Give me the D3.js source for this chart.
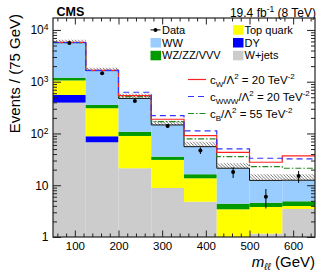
<!DOCTYPE html>
<html>
<head>
<meta charset="utf-8">
<script src="https://cdn.jsdelivr.net/npm/d3@7"></script>
<style>
  body { margin: 0; background: #fff; }
  svg { display: block; font-family: "Liberation Sans", Arial, Helvetica, sans-serif; }
</style>
</head>
<body>
<svg id="chart" width="332" height="274"></svg>
<script>
// bin edges in GeV (75 GeV bins)
const binEdges = [50, 125, 200, 275, 350, 425, 500, 575, 650];

// stacked backgrounds, bottom to top
const wjets = [394, 67.6, 21.3, 8.85, 4.81, 0, 1.16, 3.48];
const dyll = [161, 20.7, 0, 0, 0, 0, 0, 0];
const topq = [502, 219, 68.2, 22.0, 8.8, 3.43, 2.64, 0.49];
const wzzz = [140, 48.6, 18.5, 4.8, 2.7, 0.97, 0.8, 0.93];
const ww = [4487, 1280, 367, 110.4, 39.3, 16.9, 7.8, 7.6];
// relative upper size of the hatched uncertainty band
const bandUp = [0.14, 0.14, 0.25, 0.21, 0.25, 0.25, 0.31, 0.3];

// observed
const dataVals = [5610, 1456, 425, 140, 47, 18, 6, 15];
const dataErr = [75, 38, 21, 12, 6.9, 4.2, 2.45, 3.9];

// aTGC predictions (SM + signal)
const sigCW = [5750, 1660, 537, 188, 90.7, 43.3, 27.8, 36.8];
const sigCWWW = [5720, 1650, 625, 221, 112, 50.2, 33.2, 32.2];
const sigCB = [5700, 1645, 515, 169, 78.3, 35.6, 22.8, 21.3];

const yMajor = [1, 10, 100, 1000, 10000];
const xMajor = [100, 200, 300, 400, 500, 600];

const svg = d3.select("#chart");
const plot = { left: 53, right: 315, top: 18, bottom: 237 };

const x = d3.scaleLinear().domain([50, 650]).range([plot.left, plot.right]);
const y = d3.scaleLog().domain([1, 17000]).range([plot.bottom, plot.top]).clamp(true);

const defs = svg.append("defs");
const pat = defs.append("pattern")
  .attr("id", "hatch")
  .attr("patternUnits", "userSpaceOnUse")
  .attr("width", 3.2).attr("height", 3.2);
pat.append("rect").attr("width", 3.2).attr("height", 3.2).attr("fill", "#fff");
pat.append("path").attr("d", "M-1,-1 L4.2,4.2 M-1,2.2 L1,4.2 M2.2,-1 L4.2,1")
  .attr("stroke", "#444").attr("stroke-width", 0.7);
defs.append("clipPath").attr("id", "clip")
  .append("rect").attr("x", plot.left).attr("y", plot.top)
  .attr("width", plot.right - plot.left).attr("height", plot.bottom - plot.top);

const g = svg.append("g").attr("clip-path", "url(#clip)");

// stack
const comps = [
  { vals: wjets, color: "#cccccc" },
  { vals: dyll, color: "#0000ff" },
  { vals: topq, color: "#ffff00" },
  { vals: wzzz, color: "#009900" },
  { vals: ww, color: "#99ccff" },
];
const base = binEdges.slice(0, -1).map(() => 0);
comps.forEach((c) => {
  c.vals.forEach((v, i) => {
    const lo = base[i];
    const hi = lo + v;
    base[i] = hi;
    if (v <= 0) return;
    g.append("rect")
      .attr("x", x(binEdges[i]))
      .attr("width", x(binEdges[i + 1]) - x(binEdges[i]))
      .attr("y", y(hi))
      .attr("height", y(Math.max(lo, 1)) - y(hi))
      .attr("fill", c.color);
  });
});
const total = base.slice();

const stepPts = (vals) => vals.map((v, i) => [binEdges[i], v]).concat([[binEdges[binEdges.length - 1], vals[vals.length - 1]]]);

// uncertainty band
const band = d3.area()
  .x((d) => x(d[0]))
  .y0((d) => y(d[1]))
  .y1((d) => y(d[2]))
  .curve(d3.curveStepAfter);
const bandPts = total.map((t, i) => [binEdges[i], t, t * (1 + bandUp[i])]);
bandPts.push([650, total[7], total[7] * (1 + bandUp[7])]);
g.append("path").attr("d", band(bandPts)).attr("fill", "url(#hatch)");

const step = d3.line().x((d) => x(d[0])).y((d) => y(d[1])).curve(d3.curveStepAfter);
g.append("path").attr("d", step(stepPts(total)))
  .attr("fill", "none").attr("stroke", "#111").attr("stroke-width", 1);

const sigs = [
  { vals: sigCB, color: "#228822", dash: "6,2,1.5,2" },
  { vals: sigCW, color: "#ff2222", dash: null },
  { vals: sigCWWW, color: "#3333ff", dash: "6,4" },
];
sigs.forEach((s) => {
  g.append("path").attr("d", step(stepPts(s.vals)))
    .attr("fill", "none").attr("stroke", s.color).attr("stroke-width", 1.2)
    .attr("stroke-dasharray", s.dash);
});

// data
dataVals.forEach((v, i) => {
  const cx = x((binEdges[i] + binEdges[i + 1]) / 2);
  g.append("line").attr("x1", cx).attr("x2", cx)
    .attr("y1", y(v + dataErr[i])).attr("y2", y(v - dataErr[i]))
    .attr("stroke", "#000").attr("stroke-width", 1);
  g.append("circle").attr("cx", cx).attr("cy", y(v)).attr("r", 2).attr("fill", "#000");
});

// axes
const yMinor = [];
for (let d = 1; d <= 10000; d *= 10) for (let k = 2; k <= 9; k++) if (d * k < 17000) yMinor.push(d * k);
const xMinor = d3.range(60, 650, 20).filter((v) => v % 100 !== 0);

const axes = svg.append("g").attr("stroke-width", 1);
const tickStyle = (sel) => { sel.select(".domain").remove(); sel.selectAll("line").attr("stroke", "#222"); };

const yl = axes.append("g").attr("transform", `translate(${plot.left},0)`)
  .call(d3.axisLeft(y).tickValues(yMajor).tickSizeInner(-8).tickSizeOuter(0).tickPadding(4.5)
    .tickFormat((d) => (d >= 100 ? "10" : String(d))))
  .call(tickStyle);
yl.selectAll("text").attr("font-size", 12).attr("fill", "#000").attr("font-family", null)
  .each(function (d) {
    if (d >= 100) {
      d3.select(this).append("tspan").attr("font-size", 8.5).attr("dy", "-0.45em")
        .text(String(Math.round(Math.log10(d))));
    }
  });
axes.append("g").attr("transform", `translate(${plot.left},0)`)
  .call(d3.axisLeft(y).tickValues(yMinor).tickSizeInner(-4).tickSizeOuter(0).tickFormat(""))
  .call(tickStyle);
axes.append("g").attr("transform", `translate(${plot.right},0)`)
  .call(d3.axisLeft(y).tickValues(yMajor).tickSizeInner(8).tickSizeOuter(0).tickFormat(""))
  .call(tickStyle);
axes.append("g").attr("transform", `translate(${plot.right},0)`)
  .call(d3.axisLeft(y).tickValues(yMinor).tickSizeInner(4).tickSizeOuter(0).tickFormat(""))
  .call(tickStyle);

const xb = axes.append("g").attr("transform", `translate(0,${plot.bottom})`)
  .call(d3.axisBottom(x).tickValues(xMajor).tickSizeInner(-6.5).tickSizeOuter(0).tickPadding(5))
  .call(tickStyle);
xb.selectAll("text").attr("font-size", 11.5).attr("fill", "#000").attr("font-family", null);
axes.append("g").attr("transform", `translate(0,${plot.bottom})`)
  .call(d3.axisBottom(x).tickValues(xMinor).tickSizeInner(-3.5).tickSizeOuter(0).tickFormat(""))
  .call(tickStyle);
axes.append("g").attr("transform", `translate(0,${plot.top})`)
  .call(d3.axisBottom(x).tickValues(xMajor).tickSizeInner(6.5).tickSizeOuter(0).tickFormat(""))
  .call(tickStyle);
axes.append("g").attr("transform", `translate(0,${plot.top})`)
  .call(d3.axisBottom(x).tickValues(xMinor).tickSizeInner(3.5).tickSizeOuter(0).tickFormat(""))
  .call(tickStyle);

svg.append("rect").attr("x", plot.left).attr("y", plot.top)
  .attr("width", plot.right - plot.left).attr("height", plot.bottom - plot.top)
  .attr("fill", "none").attr("stroke", "#222").attr("stroke-width", 1.2);

// titles
svg.append("text").attr("x", 56.5).attr("y", 16).attr("font-size", 12.5).attr("font-weight", "bold").text("CMS");
const lumi = svg.append("text").attr("x", 316).attr("y", 16.5).attr("font-size", 12).attr("text-anchor", "end");
lumi.append("tspan").text("19.4 fb");
lumi.append("tspan").attr("font-size", 8.5).attr("dy", -5).text("-1");
lumi.append("tspan").attr("dy", 5).text(" (8 TeV)");

svg.append("text")
  .attr("transform", "translate(19.5,14) rotate(-90)")
  .attr("text-anchor", "end").attr("font-size", 15)
  .text("Events / (75 GeV)");

const xt = svg.append("text").attr("x", 315).attr("y", 267).attr("font-size", 15).attr("text-anchor", "end");
xt.append("tspan").attr("font-style", "italic").text("m");
xt.append("tspan").attr("font-style", "italic").attr("font-size", 10).attr("dy", 3).text("ℓℓ");
xt.append("tspan").attr("dy", -3).text(" (GeV)");

// legend
const leg = svg.append("g").attr("font-size", 11);
const boxRows = [
  { label: "Data", col: 0, row: 0, kind: "data" },
  { label: "WW", col: 0, row: 1, color: "#99ccff" },
  { label: "WZ/ZZ/VVV", col: 0, row: 2, color: "#009900" },
  { label: "Top quark", col: 1, row: 0, color: "#ffff00" },
  { label: "DY", col: 1, row: 1, color: "#0000ff" },
  { label: "W+jets", col: 1, row: 2, color: "#cccccc" },
];
const colX = [150.5, 233];
boxRows.forEach((r) => {
  const bx = colX[r.col];
  const by = 33.7 + r.row * 12.8;
  if (r.kind === "data") {
    leg.append("line").attr("x1", bx).attr("x2", bx + 10).attr("y1", by - 3.8).attr("y2", by - 3.8)
      .attr("stroke", "#000");
    leg.append("circle").attr("cx", bx + 5).attr("cy", by - 3.8).attr("r", 2).attr("fill", "#000");
  } else {
    leg.append("rect").attr("x", bx).attr("y", by - 8.5).attr("width", 10.5).attr("height", 9.5)
      .attr("fill", r.color);
  }
  leg.append("text").attr("x", bx + 11.5).attr("y", by).text(r.label);
});

const sigLeg = [
  { sub: "W", val: "20", color: "#ff2222", dash: null },
  { sub: "WWW", val: "20", color: "#3333ff", dash: "6,4" },
  { sub: "B", val: "55", color: "#228822", dash: "6,2,1.5,2" },
];
sigLeg.forEach((s, i) => {
  const ly = 79.5 + i * 17;
  leg.append("line").attr("x1", 188).attr("x2", 206).attr("y1", ly).attr("y2", ly)
    .attr("stroke", s.color).attr("stroke-width", 1.2).attr("stroke-dasharray", s.dash);
  const t = leg.append("text").attr("x", 210).attr("y", ly + 4).attr("font-size", 11.5);
  t.append("tspan").text("c");
  t.append("tspan").attr("font-size", 8).attr("dy", 3).text(s.sub);
  t.append("tspan").attr("dy", -3).text("/Λ");
  t.append("tspan").attr("font-size", 8).attr("dy", -4.5).text("2");
  t.append("tspan").attr("dy", 4.5).text(` = ${s.val} TeV`);
  t.append("tspan").attr("font-size", 8).attr("dy", -4.5).text("-2");
});
</script>
</body>
</html>
